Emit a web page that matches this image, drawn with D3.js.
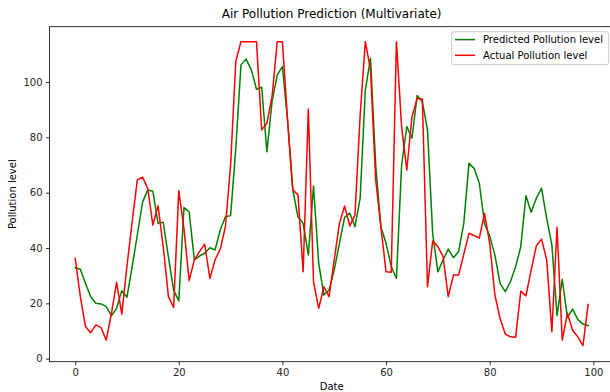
<!DOCTYPE html>
<html>
<head>
<meta charset="utf-8">
<script src="https://cdn.jsdelivr.net/npm/d3@7"></script>
<style>
  html, body { margin: 0; padding: 0; background: #fff; }
  svg { display: block; font-family: "DejaVu Sans", sans-serif; }
</style>
</head>
<body>
<svg id="chart" width="610" height="392"></svg>
<script>
const chartTitle = "Air Pollution Prediction (Multivariate)";
const xLabel = "Date";
const yLabel = "Pollution level";
const seriesNames = ["Predicted Pollution level", "Actual Pollution level"];
const seriesColors = ["#008000", "#ff0000"];
const xTicks = [0, 20, 40, 60, 80, 100];
const yTicks = [0, 20, 40, 60, 80, 100];

const predicted = [
  32.9, 32.3, 27.2, 22.4, 20.0, 19.8, 18.8, 15.5, 18.2, 24.6,
  22.2, 33.3, 44.7, 56.5, 61.0, 60.5, 48.9, 49.3, 36.8, 24.8,
  20.9, 54.6, 53.1, 35.7, 37.1, 38.1, 40.1, 39.3, 46.5, 51.3,
  51.7, 76.0, 106.2, 108.3, 104.4, 97.4, 98.1, 74.8, 92.9, 102.6,
  105.6, 86.0, 61.0, 51.3, 48.9, 37.5, 62.4, 34.5, 23.0, 24.8,
  32.0, 41.7, 51.1, 52.6, 47.7, 58.0, 97.1, 108.6, 70.0, 47.7,
  41.7, 33.3, 29.0, 70.0, 83.9, 79.7, 95.1, 92.9, 82.7, 45.1,
  31.4, 35.7, 39.6, 36.5, 38.7, 48.9, 70.6, 68.8, 63.4, 48.9,
  44.3, 37.5, 27.2, 24.2, 27.8, 33.2, 40.5, 58.9, 52.9, 58.0,
  61.6, 50.7, 41.1, 15.5, 28.7, 14.9, 17.9, 14.2, 12.5, 11.9
];
const actual = [
  36.3, 22.4, 11.6, 9.4, 12.2, 11.2, 6.7, 16.4, 27.6, 16.1,
  33.5, 49.5, 64.6, 65.6, 61.6, 48.3, 55.3, 40.5, 22.4, 18.5,
  60.7, 47.0, 28.2, 35.7, 38.7, 41.4, 29.0, 35.7, 39.6, 47.7,
  70.0, 107.4, 114.6, 114.6, 114.6, 114.6, 82.7, 85.1, 94.7, 114.6,
  114.6, 86.0, 61.0, 59.2, 31.4, 90.2, 27.8, 18.2, 26.0, 22.4,
  35.7, 48.9, 55.2, 48.0, 51.9, 88.0, 114.6, 104.4, 64.6, 47.7,
  31.4, 31.2, 114.6, 83.9, 68.2, 87.5, 94.1, 93.9, 26.0, 42.5,
  40.5, 36.9, 22.4, 30.2, 30.2, 37.8, 45.3, 44.5, 43.6, 52.5,
  41.7, 23.0, 14.6, 8.9, 7.9, 7.7, 24.4, 22.7, 32.0, 40.8,
  43.2, 35.7, 9.7, 47.5, 6.7, 16.4, 10.3, 7.9, 4.7, 19.6
];

const svg = d3.select("#chart");
const L = 49.5, R = 613.8, T = 26.7, B = 361.7;

const x = d3.scaleLinear().domain([-4.95, 103.95]).range([L, R]);
const y = d3.scaleLinear().domain([-1.1, 120.0]).range([B, T]);

// axes
const xAxis = d3.axisBottom(x).tickValues(xTicks).tickSize(3.5).tickPadding(3.5).tickFormat(d3.format("d"));
const yAxis = d3.axisLeft(y).tickValues(yTicks).tickSize(3.5).tickPadding(3.5).tickFormat(d3.format("d"));

const gx = svg.append("g").attr("transform", `translate(0,${B})`).call(xAxis);
const gy = svg.append("g").attr("transform", `translate(${L},0)`).call(yAxis);
[gx, gy].forEach(g => {
  g.select(".domain").remove();
  g.selectAll(".tick line").attr("stroke", "#000").attr("stroke-width", 0.8);
  g.selectAll(".tick text").attr("fill", "#262626").attr("font-size", 10)
    .attr("font-family", "DejaVu Sans, sans-serif");
});

// lines
const series = [predicted, actual];
const line = d3.line().x((d, i) => x(i)).y(d => y(d));
series.forEach((s, k) => {
  svg.append("path").datum(s)
    .attr("fill", "none")
    .attr("stroke", seriesColors[k])
    .attr("stroke-width", 1.5)
    .attr("stroke-linejoin", "round")
    .attr("stroke-linecap", "square")
    .attr("d", line);
});

// spines
svg.append("rect").attr("x", L).attr("y", T).attr("width", R - L).attr("height", B - T)
  .attr("fill", "none").attr("stroke", "#000").attr("stroke-width", 0.8);

// title & labels
svg.append("text").attr("x", (L + R) / 2).attr("y", 18).attr("text-anchor", "middle")
  .attr("font-size", 12).attr("fill", "#000").text(chartTitle);
svg.append("text").attr("x", (L + R) / 2).attr("y", 390).attr("text-anchor", "middle")
  .attr("font-size", 10).attr("fill", "#000").text(xLabel);
svg.append("text").attr("transform", `translate(16,${(T + B) / 2}) rotate(-90)`)
  .attr("text-anchor", "middle").attr("font-size", 10).attr("fill", "#000").text(yLabel);

// legend
const lg = svg.append("g");
lg.append("rect").attr("x", 451.7).attr("y", 31.7).attr("width", 157).attr("height", 33)
  .attr("rx", 2.5).attr("fill", "#fff").attr("fill-opacity", 0.8)
  .attr("stroke", "#cccccc").attr("stroke-width", 1);
seriesNames.forEach((name, k) => {
  const yy = 39.6 + k * 15.7;
  lg.append("line").attr("x1", 455).attr("x2", 475).attr("y1", yy).attr("y2", yy)
    .attr("stroke", seriesColors[k]).attr("stroke-width", 1.5);
  lg.append("text").attr("x", 483).attr("y", yy + 3.6).attr("font-size", 10)
    .attr("fill", "#000").text(name);
});
</script>
</body>
</html>
